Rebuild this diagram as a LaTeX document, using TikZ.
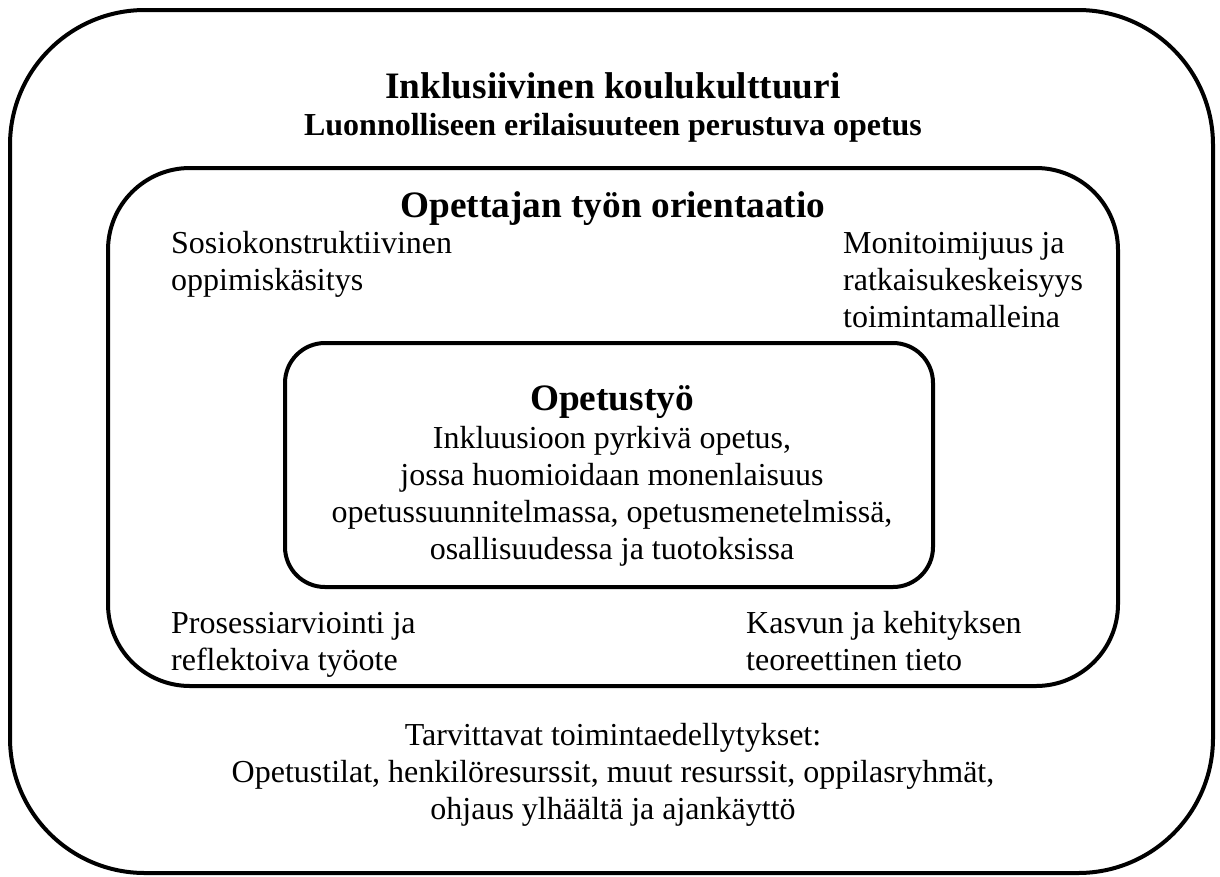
\documentclass[tikz,border=0pt]{standalone}
\usepackage{fontspec}
\setmainfont{Liberation Serif}
\begin{document}
\begin{tikzpicture}[x=1pt,y=-1pt,
  frame/.style={draw=black, line width=4pt, rectangle, inner sep=0pt},
  body/.style={font=\fontsize{32}{37}\selectfont, inner sep=0pt, align=left},
  bodyc/.style={font=\fontsize{32}{37}\selectfont, inner sep=0pt, align=center},
  head/.style={font=\fontsize{37.3}{43}\selectfont\bfseries, inner sep=0pt},
  sub/.style={font=\fontsize{32}{37}\selectfont\bfseries, inner sep=0pt}]
\useasboundingbox (0,0) rectangle (1220,876);
\node[frame, rounded corners=135pt, minimum width=1203pt, minimum height=863pt] (outer) at (611.5,441.5) {};
\node[frame, rounded corners=82pt, minimum width=1010pt, minimum height=518pt] (middle) at (613,427) {};
\node[frame, rounded corners=40pt, minimum width=648pt, minimum height=244pt] (inner) at (609,465) {};
\node[head, anchor=base] (t1) at (613,98) {Inklusiivinen koulukulttuuri};
\node[sub, anchor=base] (t2) at (613,135) {Luonnolliseen erilaisuuteen perustuva opetus};
\node[head, anchor=base] (t3) at (613,217) {Opettajan työn orientaatio};
\node[body, anchor=base west] (a) at (171,290) {Sosiokonstruktiivinen\\oppimiskäsitys};
\node[body, anchor=base west] (b) at (843,327) {Monitoimijuus ja\\ratkaisukeskeisyys\\toimintamalleina};
\node[head, anchor=base] (t4) at (612,410) {Opetustyö};
\node[bodyc, anchor=base] (c) at (612,559) {Inkluusioon pyrkivä opetus,\\jossa huomioidaan monenlaisuus\\opetussuunnitelmassa, opetusmenetelmissä,\\osallisuudessa ja tuotoksissa};
\node[body, anchor=base west] (d) at (171,670) {Prosessiarviointi ja\\reflektoiva työote};
\node[body, anchor=base west] (e) at (746,670) {Kasvun ja kehityksen\\teoreettinen tieto};
\node[bodyc, anchor=base] (f) at (613,819) {Tarvittavat toimintaedellytykset:\\Opetustilat, henkilöresurssit, muut resurssit, oppilasryhmät,\\ohjaus ylhäältä ja ajankäyttö};
\end{tikzpicture}
\end{document}
